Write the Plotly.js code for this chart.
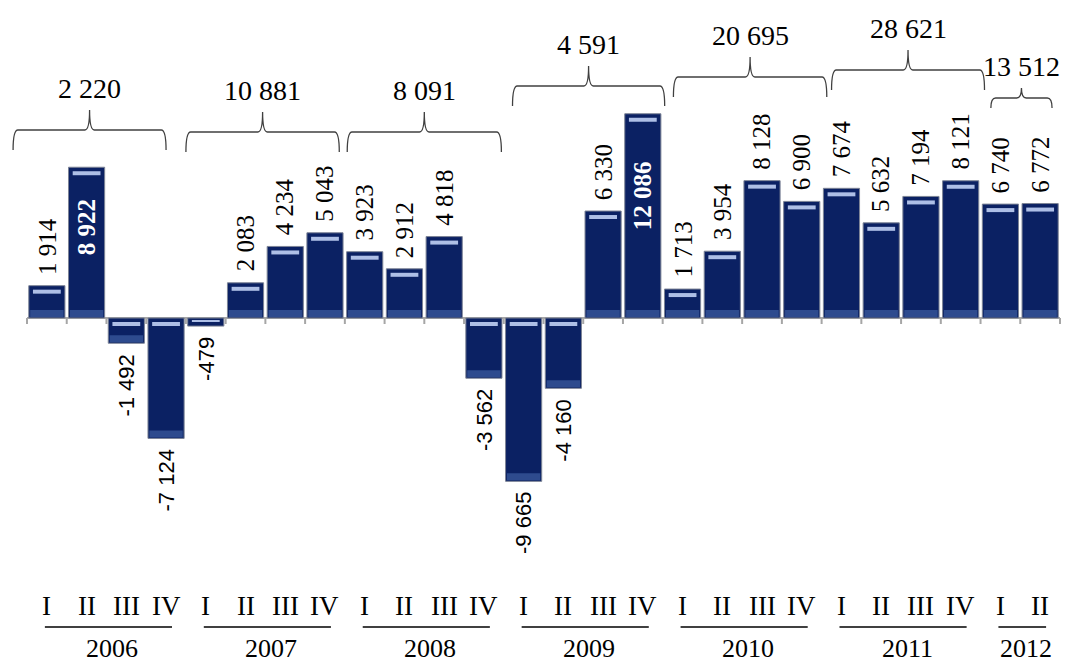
<!DOCTYPE html>
<html>
<head>
<meta charset="utf-8">
<script src="https://cdn.plot.ly/plotly-3.0.1.min.js"></script>
<style>html,body{margin:0;padding:0;background:#fff;}#chart{width:1077px;height:665px;}</style>
</head>
<body>
<div id="chart"></div>
<script>
// ---- data ----
const years = ['2006','2007','2008','2009','2010','2011','2012'];
const quarters = ['I','II','III','IV','I','II','III','IV','I','II','III','IV','I','II','III','IV','I','II','III','IV','I','II','III','IV','I','II'];
const values = [1914, 8922, -1492, -7124, -479, 2083, 4234, 5043, 3923, 2912, 4818, -3562, -9665, -4160, 6330, 12086, 1713, 3954, 8128, 6900, 7674, 5632, 7194, 8121, 6740, 6772];
const yearTotals = [2220, 10881, 8091, 4591, 20695, 28621, 13512];
const quartersPerYear = [4, 4, 4, 4, 4, 4, 2];

// ---- layout constants (positions / styles) ----
const W = 1077, H = 665;
const yRange = [-20532, 18817];
const U = (yRange[1] - yRange[0]) / H;        // data units per pixel
const catPx = 1033 / 26;                        // pixels per category
const xRange = [-0.5 - 27 / catPx, 25.5 + 17 / catPx];
const braceLevelPx = [130, 132, 132, 86, 77, 70, 98]; // pixel row of brace horizontal
const braceStartOff = [-0.85, -0.5, -0.44, -0.28, -0.23, -0.25, -0.24];
const braceEndOff = [0.0, 0.36, 0.44, 0.55, 0.63, 0.6, 0.3];
const zeroPx = 318;
const pxToVal = p => (zeroPx - p) * U;
const SERIF = 'Liberation Serif, Times New Roman, serif';

function fmt(v) {
  const s = Math.abs(v).toString().replace(/\B(?=(\d{3})+(?!\d))/g, ' ');
  return (v < 0 ? '-' : '') + s;
}

const x = values.map((_, i) => i);
const barColor = '#0b2163';

// main bars
const mainBars = {
  type: 'bar', x: x, y: values, width: 0.91,
  marker: { color: barColor, line: { color: '#7d8496', width: 1 } },
  hoverinfo: 'skip', showlegend: false
};
// bevel highlight (top) and lighter band (bottom)
const hiBase = [], hiLen = [];
const loBase = [], loLen = [];
values.forEach(v => {
  const top = v > 0 ? v : 0;
  const bottom = v > 0 ? 0 : v;
  const hPx = Math.abs(v) / U;
  if (hPx > 18) {
    hiBase.push(top - 8 * U); hiLen.push(4 * U);
    loBase.push(bottom + 1 * U); loLen.push(7 * U);
  } else {
    hiBase.push(top - 4 * U); hiLen.push(Math.min(2, hPx / 3) * U);
    loBase.push(bottom); loLen.push(0);
  }
});
const hiBars = {
  type: 'bar', x: x, y: hiLen, base: hiBase, width: 0.7,
  marker: { color: '#aebfe6', line: { width: 0 } },
  hoverinfo: 'skip', showlegend: false
};
const loBars = {
  type: 'bar', x: x, y: loLen, base: loBase, width: 0.84,
  marker: { color: '#2e4b8e', line: { width: 0 } },
  hoverinfo: 'skip', showlegend: false
};

const annotations = [];
const shapes = [];

// zero line
shapes.push({ type: 'line', xref: 'x', yref: 'y', x0: -0.5, x1: values.length - 0.5, y0: 0, y1: 0,
  layer: 'below', line: { color: '#a6a6a6', width: 2 } });

// value labels
values.forEach((v, i) => {
  if (v >= 8900) {
    annotations.push({
      x: i, y: v * 0.6, xref: 'x', yref: 'y', text: '<b>' + fmt(v) + '</b>', showarrow: false,
      textangle: -90, xanchor: 'center', yanchor: 'middle',
      font: { family: SERIF, size: 25, color: '#ffffff' }
    });
  } else if (v > 0) {
    annotations.push({
      x: i, y: v, xref: 'x', yref: 'y', text: fmt(v), showarrow: false,
      textangle: -90, xanchor: 'center', yanchor: 'bottom', yshift: 9,
      font: { family: SERIF, size: 25, color: '#000' }
    });
  } else {
    annotations.push({
      x: i, y: v, xref: 'x', yref: 'y', text: fmt(v), showarrow: false,
      textangle: -90, xanchor: 'center', yanchor: 'top', yshift: -9,
      font: { family: 'Liberation Sans, Arial, sans-serif', size: 22, color: '#000' }
    });
  }
});

// zero-line tick marks
for (let k = 0; k <= values.length; k++) {
  shapes.push({ type: 'line', xref: 'x', yref: 'y', x0: k - 0.5, x1: k - 0.5, y0: 0, y1: -6 * U,
    line: { color: '#a6a6a6', width: 2 } });
}

// quarter labels
quarters.forEach((q, i) => {
  annotations.push({ x: i, y: 1 - 606 / H, xref: 'x', yref: 'paper', text: q, showarrow: false,
    xanchor: 'center', yanchor: 'middle',
    font: { family: SERIF, size: 27, color: '#000' } });
});

// year groups: underline, year label, braces, totals
let start = 0;
years.forEach((yr, g) => {
  const n = quartersPerYear[g];
  const first = start, last = start + n - 1;
  const mid = (first + last) / 2;
  shapes.push({ type: 'line', xref: 'x', yref: 'paper', x0: first - 0.05, x1: last + 0.15,
    y0: 1 - 627 / H, y1: 1 - 627 / H, line: { color: '#000', width: 1.3 } });
  annotations.push({ x: mid + 0.15, y: 1 - 648 / H, xref: 'x', yref: 'paper', text: yr, showarrow: false,
    xanchor: 'center', yanchor: 'middle',
    font: { family: SERIF, size: 26, color: '#000' } });

  // brace
  const bx0 = first + braceStartOff[g], bx1 = last + braceEndOff[g], bm = (bx0 + bx1) / 2;
  const depth = n > 2 ? 20 : 10;
  const lvl = pxToVal(braceLevelPx[g]);
  const endY = lvl - depth * U, tipY = lvl + depth * U;
  const cx = 0.12; // curve extent in category units
  const path = 'M ' + bx0 + ',' + endY +
    ' Q ' + bx0 + ',' + lvl + ' ' + (bx0 + cx) + ',' + lvl +
    ' L ' + (bm - cx) + ',' + lvl +
    ' Q ' + bm + ',' + lvl + ' ' + bm + ',' + tipY +
    ' Q ' + bm + ',' + lvl + ' ' + (bm + cx) + ',' + lvl +
    ' L ' + (bx1 - cx) + ',' + lvl +
    ' Q ' + bx1 + ',' + lvl + ' ' + bx1 + ',' + endY;
  shapes.push({ type: 'path', xref: 'x', yref: 'y', path: path, line: { color: '#404040', width: 1.3 } });
  annotations.push({ x: bm, y: tipY, xref: 'x', yref: 'y', text: fmt(yearTotals[g]), showarrow: false,
    xanchor: 'center', yanchor: 'bottom', yshift: 4,
    font: { family: SERIF, size: 28, color: '#000' } });
  start += n;
});

const layout = {
  width: W, height: H,
  margin: { l: 0, r: 0, t: 0, b: 0, pad: 0 },
  paper_bgcolor: '#ffffff', plot_bgcolor: '#ffffff',
  barmode: 'overlay',
  showlegend: false,
  xaxis: { range: xRange, showgrid: false, zeroline: false, showticklabels: false, ticks: '', showline: false, fixedrange: true },
  yaxis: { range: yRange, showgrid: false, zeroline: false, showticklabels: false, ticks: '', showline: false, fixedrange: true },
  annotations: annotations,
  shapes: shapes
};

Plotly.newPlot('chart', [mainBars, loBars, hiBars], layout, { staticPlot: true, displayModeBar: false });
</script>
</body>
</html>
